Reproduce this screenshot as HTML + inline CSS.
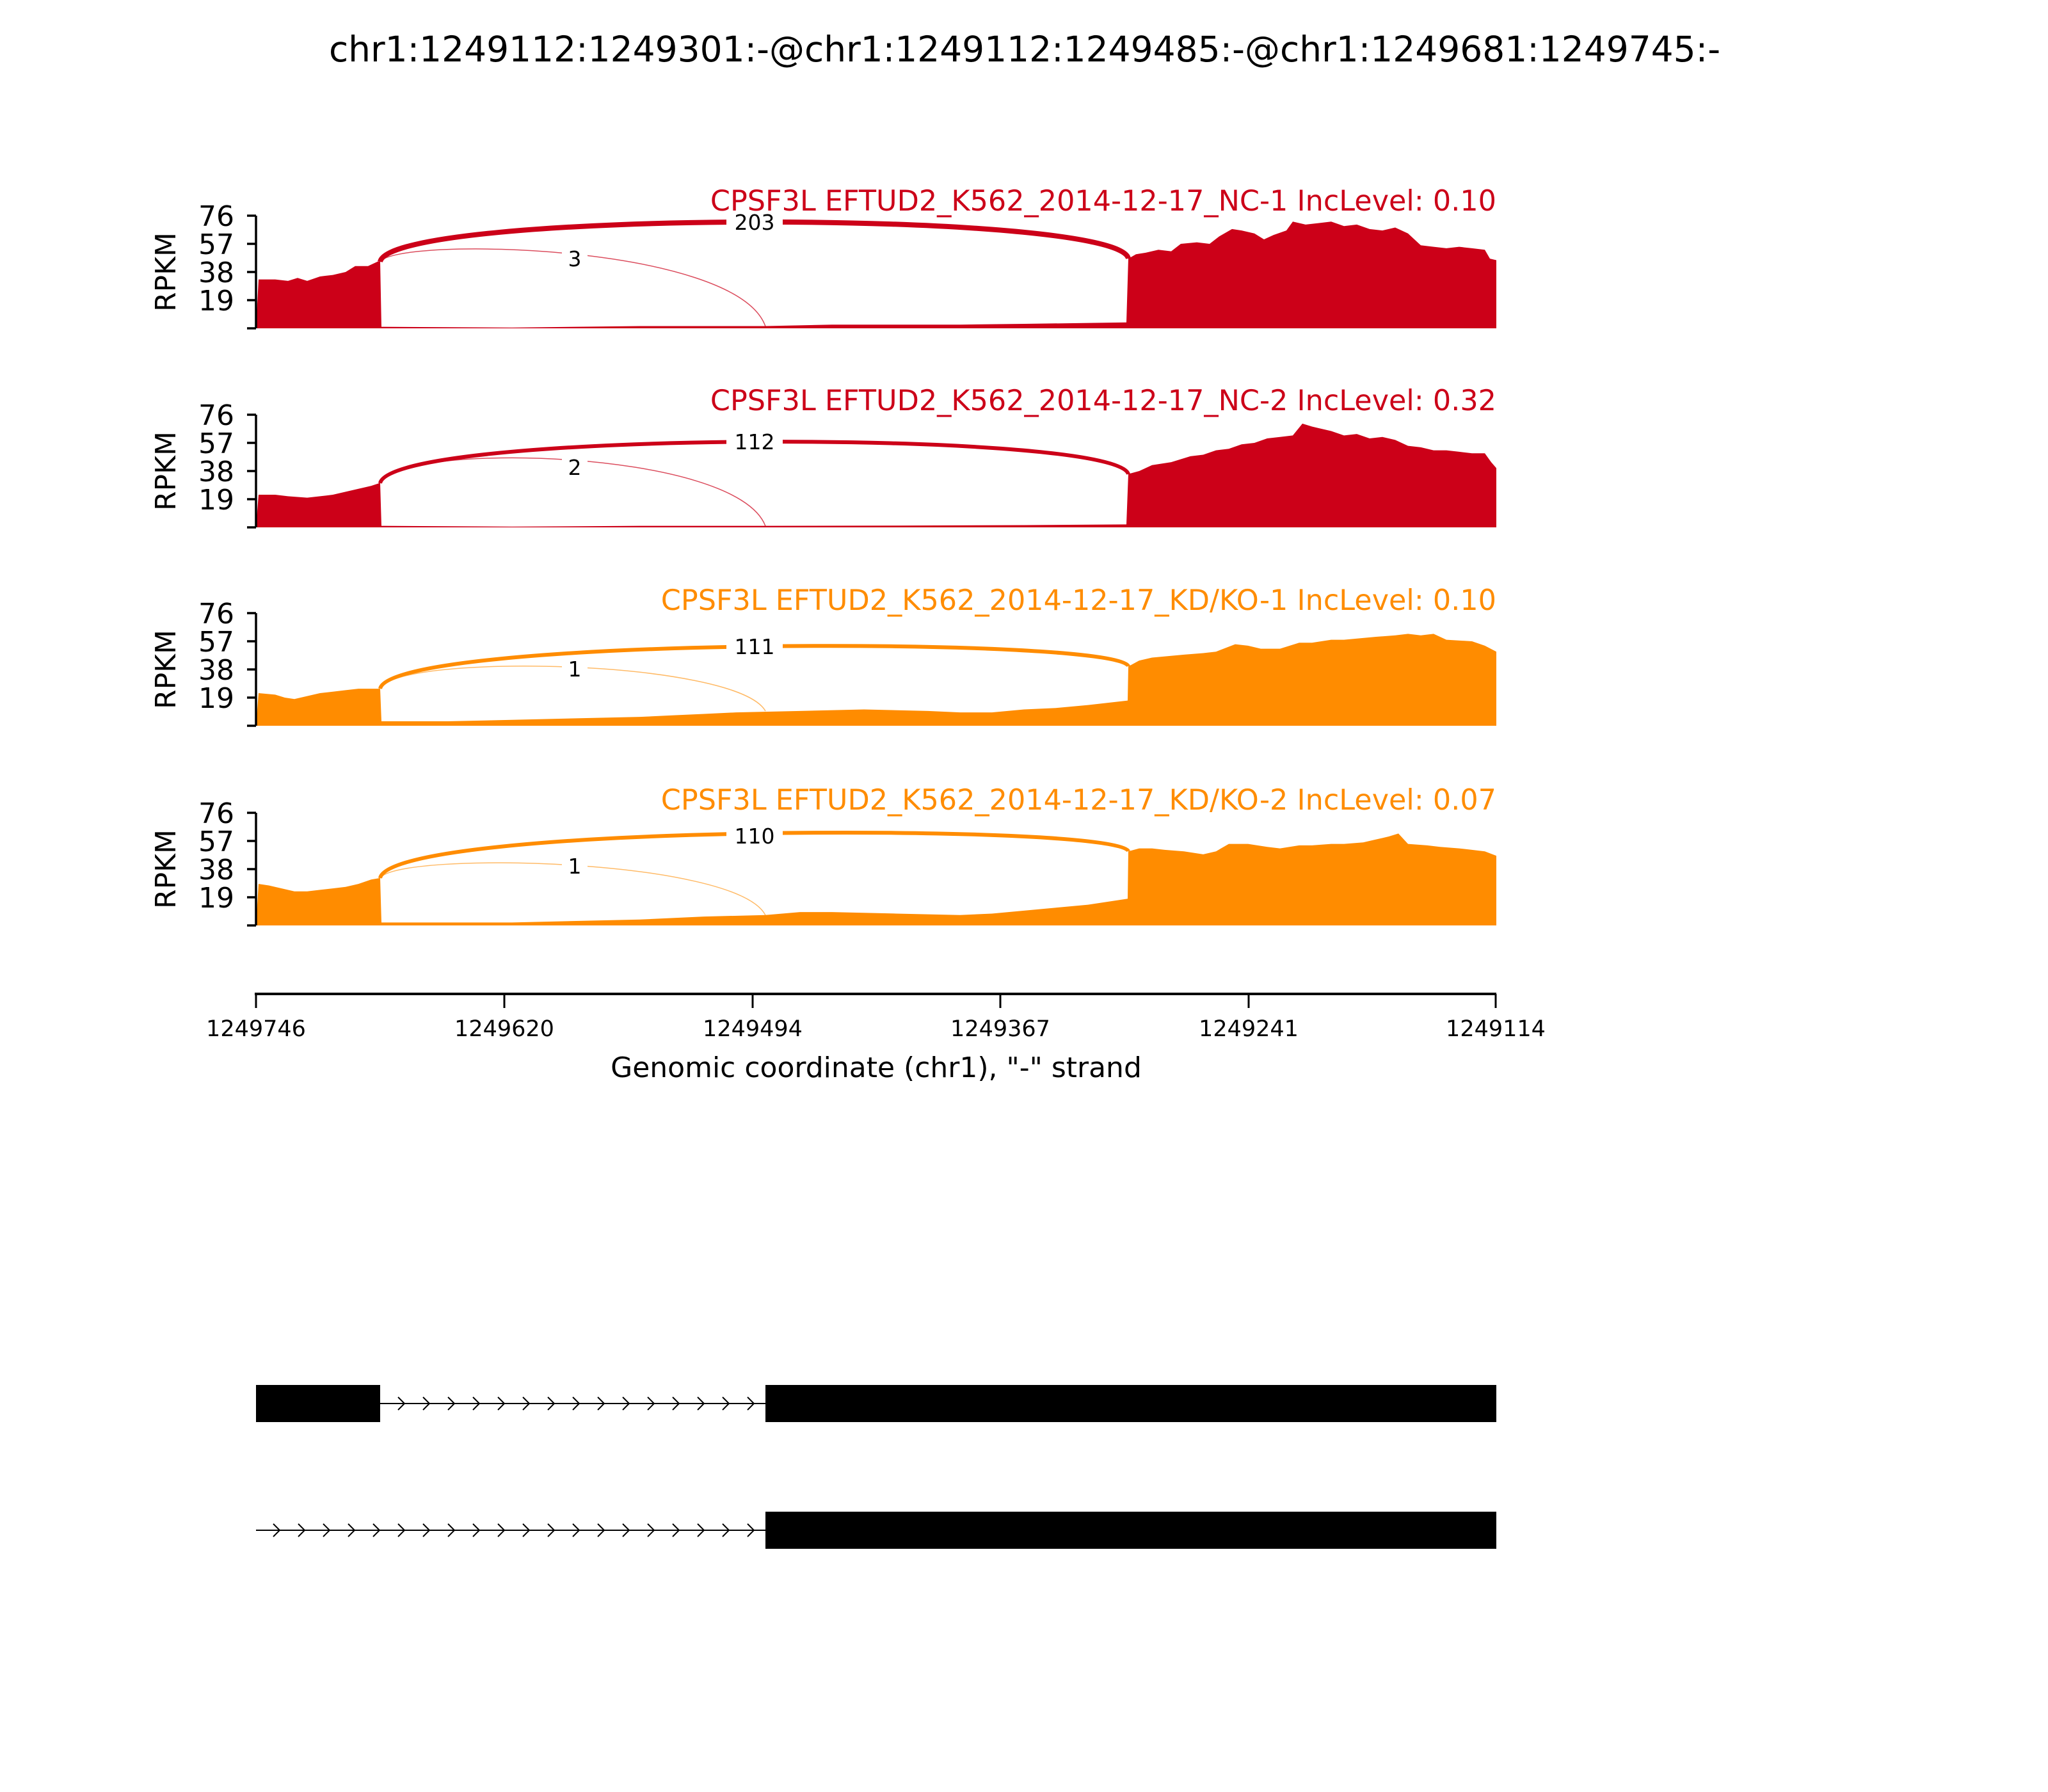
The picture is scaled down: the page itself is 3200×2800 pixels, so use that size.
<!DOCTYPE html>
<html><head><meta charset="utf-8"><style>
html,body{margin:0;padding:0;background:#fff}
svg{display:block}
text{font-family:"DejaVu Sans","Liberation Sans",sans-serif}
</style></head><body>
<svg width="3200" height="2800" viewBox="0 0 3200 2800" xmlns="http://www.w3.org/2000/svg">
<rect width="3200" height="2800" fill="#fff"/>
<text x="1601" y="96" font-size="55" text-anchor="middle">chr1:1249112:1249301:-@chr1:1249112:1249485:-@chr1:1249681:1249745:-</text>

<!-- Panel 1 -->
<g transform="translate(0,513) scale(1,-2.316)" fill="#CC0018">
<path d="M400,0 L404,33 430,33 450,32 465,34 480,32 500,35 520,36 540,38 555,42 575,42 590,45 594,45 596,1 800,0.5 1000,1.5 1196,1.5 1300,2.5 1500,2.5 1600,3 1760,4 1763,47 1775,50 1790,51 1810,53 1830,52 1845,57 1870,58 1890,57 1905,62 1925,67 1940,66 1960,64 1975,60 1990,63 2010,66 2020,72 2040,70 2060,71 2080,72 2100,69 2120,70 2140,67 2160,66 2180,68 2200,64 2220,56 2240,55 2260,54 2280,55 2300,54 2320,53 2328,47 2338,46 2338,0 Z"/>
</g>
<path d="M594,409 C610,327 1750,327 1763,404" fill="none" stroke="#CC0018" stroke-width="8"/>
<path d="M594,409 C620,370 1150,380 1196,510" fill="none" stroke="#CC0018" stroke-width="1.5" opacity="0.7"/>
<rect x="1135" y="327" width="88" height="40" fill="#fff"/>
<text x="1179" y="359" font-size="33" text-anchor="middle">203</text>
<rect x="878" y="384" width="40" height="40" fill="#fff"/>
<text x="898" y="416" font-size="33" text-anchor="middle">3</text>
<text x="2338" y="329" font-size="44.5" text-anchor="end" fill="#CC0018">CPSF3L EFTUD2_K562_2014-12-17_NC-1 IncLevel: 0.10</text>

<!-- Panel 2 -->
<g transform="translate(0,824) scale(1,-2.316)" fill="#CC0018">
<path d="M400,0 L404,22 430,22 450,21 480,20 500,21 520,22 540,24 560,26 580,28 594,30 596,1 800,0.5 1000,1 1196,1 1400,1.2 1600,1.5 1760,2 1763,36 1780,38 1800,42 1830,44 1860,48 1880,49 1900,52 1920,53 1940,56 1960,57 1980,60 2000,61 2020,62 2035,70 2050,68 2060,67 2080,65 2100,62 2120,63 2140,60 2160,61 2180,59 2200,55 2220,54 2240,52 2260,52 2280,51 2300,50 2320,50 2330,44 2338,40 2338,0 Z"/>
</g>
<path d="M594,755 C610,671 1750,671 1763,741" fill="none" stroke="#CC0018" stroke-width="6"/>
<path d="M594,755 C620,690 1150,700 1196,822" fill="none" stroke="#CC0018" stroke-width="1.5" opacity="0.7"/>
<rect x="1135" y="670" width="88" height="40" fill="#fff"/>
<text x="1179" y="702" font-size="33" text-anchor="middle">112</text>
<rect x="878" y="710" width="40" height="40" fill="#fff"/>
<text x="898" y="742" font-size="33" text-anchor="middle">2</text>
<text x="2338" y="641" font-size="44.5" text-anchor="end" fill="#CC0018">CPSF3L EFTUD2_K562_2014-12-17_NC-2 IncLevel: 0.32</text>

<!-- Panel 3 -->
<g transform="translate(0,1134) scale(1,-2.316)" fill="#FF8C00">
<path d="M400,0 L404,22 430,21 445,19 460,18 480,20 500,22 520,23 540,24 560,25 594,25 596,3 700,3 800,4 900,5 1000,6 1050,7 1100,8 1150,9 1250,10 1350,11 1450,10 1500,9 1550,9 1600,11 1650,12 1700,14 1762,17 1763,40 1780,44 1800,46 1850,48 1880,49 1900,50 1930,55 1950,54 1970,52 2000,52 2030,56 2050,56 2080,58 2100,58 2150,60 2180,61 2200,62 2220,61 2240,62 2260,58 2300,57 2320,54 2338,50 2338,0 Z"/>
</g>
<path d="M594,1076 C610,994 1750,994 1763,1041" fill="none" stroke="#FF8C00" stroke-width="6"/>
<path d="M594,1076 C620,1020 1150,1030 1196,1111" fill="none" stroke="#FF8C00" stroke-width="1.5" opacity="0.6"/>
<rect x="1135" y="990" width="88" height="40" fill="#fff"/>
<text x="1179" y="1022" font-size="33" text-anchor="middle">111</text>
<rect x="878" y="1025" width="40" height="40" fill="#fff"/>
<text x="898" y="1057" font-size="33" text-anchor="middle">1</text>
<text x="2338" y="953" font-size="44.5" text-anchor="end" fill="#FF8C00">CPSF3L EFTUD2_K562_2014-12-17_KD/KO-1 IncLevel: 0.10</text>

<!-- Panel 4 -->
<g transform="translate(0,1446) scale(1,-2.316)" fill="#FF8C00">
<path d="M400,0 L404,28 420,27 440,25 460,23 480,23 500,24 520,25 540,26 560,28 580,31 594,32 596,2 700,2 800,2 900,3 1000,4 1100,6 1196,7 1250,9 1300,9 1400,8 1500,7 1550,8 1600,10 1650,12 1700,14 1762,18 1763,50 1780,52 1800,52 1820,51 1850,50 1880,48 1900,50 1920,55 1950,55 1980,53 2000,52 2030,54 2050,54 2080,55 2100,55 2130,56 2150,58 2170,60 2185,62 2200,55 2230,54 2250,53 2280,52 2300,51 2320,50 2338,47 2338,0 Z"/>
</g>
<path d="M594,1372 C610,1286 1750,1286 1763,1330" fill="none" stroke="#FF8C00" stroke-width="6"/>
<path d="M594,1372 C620,1330 1150,1340 1196,1430" fill="none" stroke="#FF8C00" stroke-width="1.5" opacity="0.6"/>
<rect x="1135" y="1286" width="88" height="40" fill="#fff"/>
<text x="1179" y="1318" font-size="33" text-anchor="middle">110</text>
<rect x="878" y="1333" width="40" height="40" fill="#fff"/>
<text x="898" y="1365" font-size="33" text-anchor="middle">1</text>
<text x="2338" y="1265" font-size="44.5" text-anchor="end" fill="#FF8C00">CPSF3L EFTUD2_K562_2014-12-17_KD/KO-2 IncLevel: 0.07</text>

<!-- Y axes -->
<g stroke="#000" stroke-width="3.5" fill="none">
<path d="M400,337 V513 M386,337 H400 M386,381 H400 M386,425 H400 M386,469 H400 M386,513 H400"/>
<path d="M400,648 V824 M386,648 H400 M386,692 H400 M386,736 H400 M386,780 H400 M386,824 H400"/>
<path d="M400,958 V1134 M386,958 H400 M386,1002 H400 M386,1046 H400 M386,1090 H400 M386,1134 H400"/>
<path d="M400,1270 V1446 M386,1270 H400 M386,1314 H400 M386,1358 H400 M386,1402 H400 M386,1446 H400"/>
</g>
<g font-size="44" text-anchor="end">
<text x="366" y="353">76</text><text x="366" y="397">57</text><text x="366" y="441">38</text><text x="366" y="485">19</text>
<text x="366" y="664">76</text><text x="366" y="708">57</text><text x="366" y="752">38</text><text x="366" y="796">19</text>
<text x="366" y="974">76</text><text x="366" y="1018">57</text><text x="366" y="1062">38</text><text x="366" y="1106">19</text>
<text x="366" y="1286">76</text><text x="366" y="1330">57</text><text x="366" y="1374">38</text><text x="366" y="1418">19</text>
</g>
<g font-size="44" text-anchor="middle">
<text transform="translate(274,425) rotate(-90)">RPKM</text>
<text transform="translate(274,736) rotate(-90)">RPKM</text>
<text transform="translate(274,1046) rotate(-90)">RPKM</text>
<text transform="translate(274,1358) rotate(-90)">RPKM</text>
</g>

<!-- X axis -->
<g stroke="#000" fill="none">
<path d="M398,1553 H2338" stroke-width="4"/>
<path d="M400,1553 V1575 M788,1553 V1575 M1176,1553 V1575 M1563,1553 V1575 M1951,1553 V1575 M2337,1553 V1575" stroke-width="3"/>
</g>
<g font-size="35" text-anchor="middle">
<text x="400" y="1619">1249746</text><text x="788" y="1619">1249620</text><text x="1176" y="1619">1249494</text>
<text x="1563" y="1619">1249367</text><text x="1951" y="1619">1249241</text><text x="2337" y="1619">1249114</text>
</g>
<text x="1369" y="1683" font-size="44" text-anchor="middle">Genomic coordinate (chr1), "-" strand</text>

<!-- Gene models -->
<rect x="400" y="2164" width="194" height="58" fill="#000"/>
<rect x="1196" y="2164" width="1142" height="58" fill="#000"/>
<line x1="594" y1="2193" x2="1196" y2="2193" stroke="#000" stroke-width="2"/>
<path d="M622,2183 L632,2193 622,2203 M661,2183 L671,2193 661,2203 M700,2183 L710,2193 700,2203 M739,2183 L749,2193 739,2203 M778,2183 L788,2193 778,2203 M817,2183 L827,2193 817,2203 M856,2183 L866,2193 856,2203 M895,2183 L905,2193 895,2203 M934,2183 L944,2193 934,2203 M973,2183 L983,2193 973,2203 M1012,2183 L1022,2193 1012,2203 M1051,2183 L1061,2193 1051,2203 M1090,2183 L1100,2193 1090,2203 M1129,2183 L1139,2193 1129,2203 M1168,2183 L1178,2193 1168,2203" fill="none" stroke="#000" stroke-width="2"/>
<rect x="1196" y="2362" width="1142" height="58" fill="#000"/>
<line x1="400" y1="2391" x2="1196" y2="2391" stroke="#000" stroke-width="2"/>
<path d="M427,2381 L437,2391 427,2401 M466,2381 L476,2391 466,2401 M505,2381 L515,2391 505,2401 M544,2381 L554,2391 544,2401 M583,2381 L593,2391 583,2401 M622,2381 L632,2391 622,2401 M661,2381 L671,2391 661,2401 M700,2381 L710,2391 700,2401 M739,2381 L749,2391 739,2401 M778,2381 L788,2391 778,2401 M817,2381 L827,2391 817,2401 M856,2381 L866,2391 856,2401 M895,2381 L905,2391 895,2401 M934,2381 L944,2391 934,2401 M973,2381 L983,2391 973,2401 M1012,2381 L1022,2391 1012,2401 M1051,2381 L1061,2391 1051,2401 M1090,2381 L1100,2391 1090,2401 M1129,2381 L1139,2391 1129,2401 M1168,2381 L1178,2391 1168,2401" fill="none" stroke="#000" stroke-width="2"/>
</svg>
</body></html>
